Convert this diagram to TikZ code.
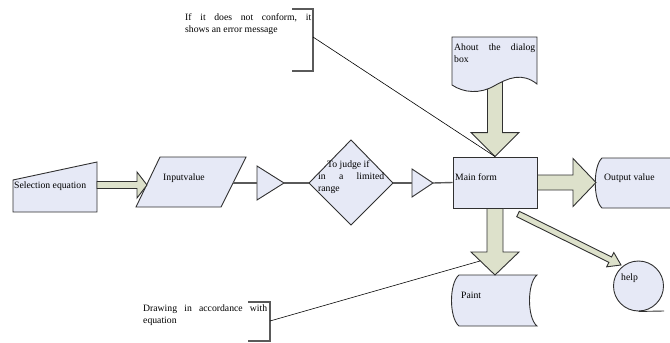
\documentclass[tikz,border=0pt]{standalone}
\usepackage{fontspec}
\setmainfont{Liberation Serif}
\usetikzlibrary{calc}
\definecolor{boxfill}{HTML}{E6E9F6}
\definecolor{arrfill}{HTML}{DDE1CB}
\definecolor{edgec}{HTML}{303030}
\definecolor{connc}{HTML}{5A5A5A}
\tikzset{
 shapebox/.style={draw=edgec, fill=boxfill, line width=0.9pt},
 arrowbox/.style={draw=edgec, fill=arrfill, line width=0.9pt, line join=miter},
 connline/.style={draw=connc, line width=1.4pt},
 callline/.style={draw=black, line width=0.6pt},
 bracketline/.style={draw=connc, line width=1.3pt},
 lbl/.style={inner sep=0pt, font=\fontsize{9.7}{12}\selectfont},
}
\newcommand\barrow[5]{%
 \coordinate (bah) at ($(#2)!#5!(#1)$);
 \path[arrowbox] ($(#1)!#3!90:(#2)$) -- ($(bah)!#3!90:(#2)$) -- ($(bah)!#4!90:(#2)$) -- (#2) -- ($(bah)!#4!-90:(#2)$) -- ($(bah)!#3!-90:(#2)$) -- ($(#1)!#3!-90:(#2)$) -- cycle;}
\begin{document}
\begin{tikzpicture}[x=1pt,y=-1pt]
\useasboundingbox (0,0) rectangle (670,343);
\clip (0,0) rectangle (670,343);

% Selection equation (manual input)
\path[shapebox] (13,180) -- (97,162) -- (97,212) -- (13,212) -- cycle;
\coordinate (sel) at (97,185);
\node[lbl, anchor=base west] (selt) at (14,188) {Selection equation};

% Input value (parallelogram)
\path[shapebox] (136,207) -- (221,207) -- (246,157) -- (160,157) -- cycle;
\coordinate (inl) at (147,185);
\coordinate (inr) at (233,183);
\node[lbl, anchor=base west] (int) at (163,180) {Inputvalue};
\barrow{sel}{inl}{3.5pt}{13pt}{10pt}

% triangle 1
\path[shapebox] (257,166) -- (284,183) -- (257,200) -- cycle;
\coordinate (t1l) at (257,183);
\coordinate (t1r) at (284,183);

% diamond
\path[shapebox] (309,183) -- (351,140) -- (393,183) -- (351,225) -- cycle;
\coordinate (dl) at (309,183);
\coordinate (dr) at (393,183);
\node[lbl, anchor=base west] (dt) at (318,167) {\parbox[t]{66pt}{\hspace*{9pt}To judge if\\ in\hfill a\hfill limited\\ range}};

% triangle 2
\path[shapebox] (412,169) -- (433,183) -- (412,197) -- cycle;
\coordinate (t2l) at (412,183);
\coordinate (t2r) at (433,183);

% Main form
\node[shapebox, minimum width=84pt, minimum height=51pt, inner sep=0pt] (main) at (495,182.5) {};
\node[lbl, anchor=base west] (maint) at (455,180) {Main form};

% connectors
\draw[connline] (inr) -- (t1l);
\draw[connline] (t1r) -- (dl);
\draw[connline] (dr) -- (t2l);
\draw[connline] (t2r) -- (main.west);

% About dialog (document)
\coordinate (docb) at (495,82);
\barrow{docb}{main.north}{7.5pt}{24pt}{24pt}
\path[shapebox] (452,37) -- (537,37) -- (537,84) .. controls (522,72) and (508,78) .. (494,86) .. controls (480,94) and (464,93) .. (452,85) -- cycle;
\node[lbl, anchor=base west] (doct) at (454,50) {\parbox[t]{81pt}{Ahout\hfill the\hfill dialog\\box}};

% Output value
\path[shapebox] (602,158) -- (690,158) -- (690,208) -- (602,208) .. controls (593,200) and (593,166) .. (602,158) -- cycle;
\coordinate (outl) at (596,182.5);
\node[lbl, anchor=base west] (outt) at (604,180) {Output value};
\barrow{main.east}{outl}{7.5pt}{24pt}{23pt}

% Paint (stored data)
\path[shapebox] (459,275) -- (537,275) .. controls (527,283) and (527,318) .. (537,326) -- (459,326) .. controls (449,318) and (449,283) .. (459,275) -- cycle;
\coordinate (paintt) at (495,275);
\node[lbl, anchor=base west] (paintx) at (461,298) {Paint};
\barrow{main.south}{paintt}{8pt}{24pt}{23pt}

% help (tape)
\node[shapebox, circle, minimum size=50pt, inner sep=0pt] (help) at (638.5,286) {};
\coordinate (helpr) at (664,311);
\draw[draw=edgec, line width=0.9pt] (help.south) -- (helpr);
\node[lbl, anchor=base west] (helpt) at (621,280) {help};
\coordinate (hs) at (518,214);
\coordinate (hin) at (621,265);
\barrow{hs}{hin}{3pt}{8pt}{12pt}

% callout: error message
\draw[bracketline] (292,9) -- (313,9) -- (313,71) -- (292,71);
\coordinate (br1) at (313,37);
\draw[callline] (br1) -- (main.north);
\node[lbl, anchor=base west] (errt) at (185,20) {\parbox[t]{126pt}{If\hfill it\hfill does\hfill not\hfill conform,\hfill it\\shows an error message}};

% callout: drawing
\draw[bracketline] (248,302) -- (270,302) -- (270,341) -- (248,341);
\coordinate (br2) at (270,321);
\coordinate (pah) at (480,261);
\draw[callline] (br2) -- (pah);
\node[lbl, anchor=base west] (drwt) at (143,311) {\parbox[t]{124pt}{Drawing\hfill in\hfill accordance\hfill with\\equation}};
\end{tikzpicture}
\end{document}
